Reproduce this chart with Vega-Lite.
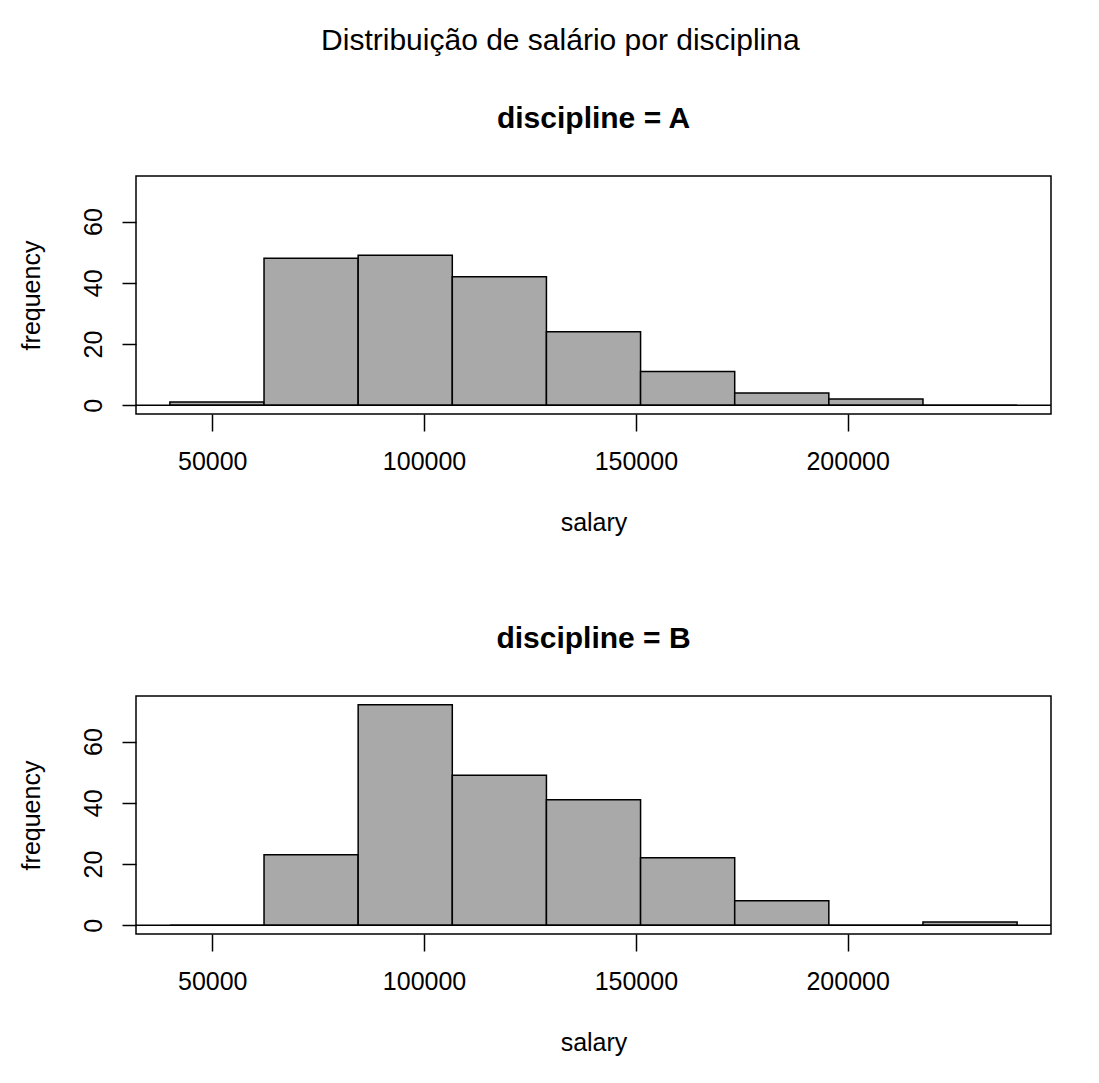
{
  "$schema": "https://vega.github.io/schema/vega-lite/v6.json",
  "background": "white",
  "padding": {"left": 18, "top": 26, "right": 10, "bottom": 5},
  "title": {
    "text": "Distribuição de salário por disciplina",
    "fontSize": 30,
    "fontWeight": "normal",
    "color": "black",
    "anchor": "middle",
    "offset": 47,
    "dx": 25
  },
  "datasets": {
    "hist": [
      {"discipline": "A", "bin_start": 40000, "bin_end": 62222.2, "frequency": 1},
      {"discipline": "A", "bin_start": 62222.2, "bin_end": 84444.4, "frequency": 48},
      {"discipline": "A", "bin_start": 84444.4, "bin_end": 106666.7, "frequency": 49},
      {"discipline": "A", "bin_start": 106666.7, "bin_end": 128888.9, "frequency": 42},
      {"discipline": "A", "bin_start": 128888.9, "bin_end": 151111.1, "frequency": 24},
      {"discipline": "A", "bin_start": 151111.1, "bin_end": 173333.3, "frequency": 11},
      {"discipline": "A", "bin_start": 173333.3, "bin_end": 195555.6, "frequency": 4},
      {"discipline": "A", "bin_start": 195555.6, "bin_end": 217777.8, "frequency": 2},
      {"discipline": "A", "bin_start": 217777.8, "bin_end": 240000, "frequency": 0},
      {"discipline": "B", "bin_start": 40000, "bin_end": 62222.2, "frequency": 0},
      {"discipline": "B", "bin_start": 62222.2, "bin_end": 84444.4, "frequency": 23},
      {"discipline": "B", "bin_start": 84444.4, "bin_end": 106666.7, "frequency": 72},
      {"discipline": "B", "bin_start": 106666.7, "bin_end": 128888.9, "frequency": 49},
      {"discipline": "B", "bin_start": 128888.9, "bin_end": 151111.1, "frequency": 41},
      {"discipline": "B", "bin_start": 151111.1, "bin_end": 173333.3, "frequency": 22},
      {"discipline": "B", "bin_start": 173333.3, "bin_end": 195555.6, "frequency": 8},
      {"discipline": "B", "bin_start": 195555.6, "bin_end": 217777.8, "frequency": 0},
      {"discipline": "B", "bin_start": 217777.8, "bin_end": 240000, "frequency": 1}
    ]
  },
  "spacing": 87,
  "vconcat": [
    {
      "width": 915,
      "height": 238,
      "title": {"text": "discipline = A", "fontSize": 30, "fontWeight": "bold", "color": "black", "offset": 42},
      "layer": [
        {
          "data": {"name": "hist"},
          "transform": [{"filter": "datum.discipline === 'A'"}],
          "mark": {"type": "bar", "fill": "#A9A9A9", "stroke": "black", "strokeWidth": 1.5},
          "encoding": {
            "x": {"field": "bin_start", "type": "quantitative", "scale": {"domain": [32000, 248000], "nice": false, "zero": false},
              "axis": {"title": "salary", "values": [50000, 100000, 150000, 200000], "format": "d"}},
            "x2": {"field": "bin_end"},
            "y": {"field": "frequency", "type": "quantitative", "scale": {"domain": [-2.88, 74.88], "nice": false, "zero": false},
              "axis": {"title": "frequency", "values": [0, 10, 20, 30, 40, 50, 60, 70], "labelExpr": "datum.value % 20 === 0 ? datum.label : ''"}},
            "y2": {"datum": 0}
          }
        },
        {
          "data": {"values": [{"zero": 0}]},
          "mark": {"type": "rule", "color": "black", "strokeWidth": 1.5},
          "encoding": {"y": {"field": "zero", "type": "quantitative"}}
        }
      ]
    },
    {
      "width": 915,
      "height": 238,
      "title": {"text": "discipline = B", "fontSize": 30, "fontWeight": "bold", "color": "black", "offset": 42},
      "layer": [
        {
          "data": {"name": "hist"},
          "transform": [{"filter": "datum.discipline === 'B'"}],
          "mark": {"type": "bar", "fill": "#A9A9A9", "stroke": "black", "strokeWidth": 1.5},
          "encoding": {
            "x": {"field": "bin_start", "type": "quantitative", "scale": {"domain": [32000, 248000], "nice": false, "zero": false},
              "axis": {"title": "salary", "values": [50000, 100000, 150000, 200000], "format": "d"}},
            "x2": {"field": "bin_end"},
            "y": {"field": "frequency", "type": "quantitative", "scale": {"domain": [-2.88, 74.88], "nice": false, "zero": false},
              "axis": {"title": "frequency", "values": [0, 10, 20, 30, 40, 50, 60, 70], "labelExpr": "datum.value % 20 === 0 ? datum.label : ''"}},
            "y2": {"datum": 0}
          }
        },
        {
          "data": {"values": [{"zero": 0}]},
          "mark": {"type": "rule", "color": "black", "strokeWidth": 1.5},
          "encoding": {"y": {"field": "zero", "type": "quantitative"}}
        }
      ]
    }
  ],
  "config": {
    "font": "Liberation Sans",
    "view": {"stroke": "black", "strokeWidth": 1.5},
    "axis": {
      "grid": false,
      "domain": false,
      "tickColor": "black",
      "tickWidth": 1.5,
      "labelColor": "black",
      "labelFontSize": 25,
      "labelFont": "Liberation Sans",
      "titleFont": "Liberation Sans",
      "titleFontSize": 25,
      "titleFontWeight": "normal",
      "titleColor": "black",
      "labelOverlap": false,
      "labelFlush": false
    },
    "axisX": {"tickSize": 17, "labelPadding": 18, "titlePadding": 36},
    "axisY": {"tickSize": 14, "labelPadding": 16, "labelAngle": -90, "labelAlign": "center", "labelBaseline": "bottom", "titlePadding": 37}
  }
}
